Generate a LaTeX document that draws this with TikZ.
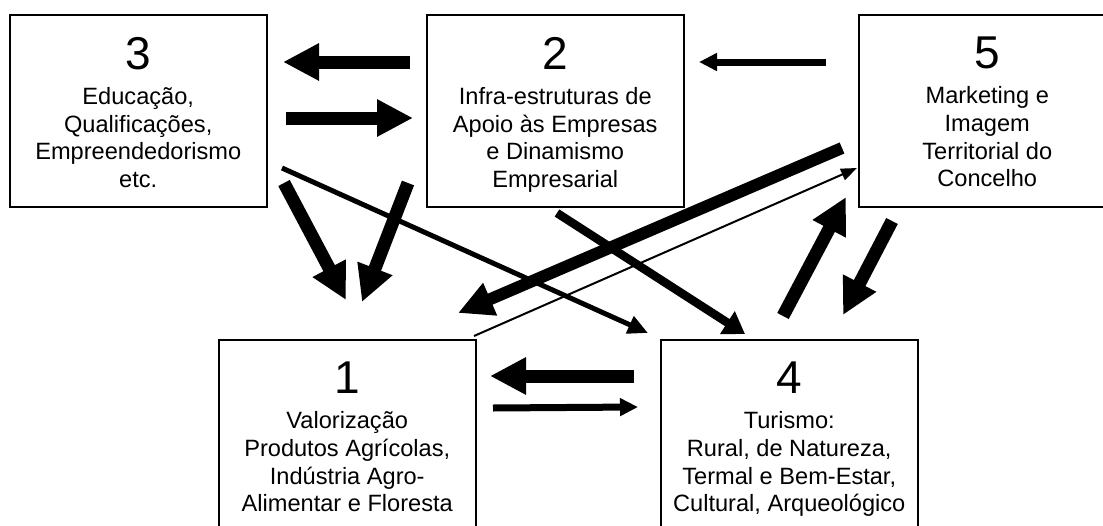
\documentclass[tikz,border=0pt]{standalone}
\usepackage{fontspec}
\setmainfont{Liberation Sans}
\usetikzlibrary{arrows.meta,calc}
\tikzset{
  box/.style={draw=black, line width=1.5pt, minimum width=257pt, minimum height=192pt, inner sep=0pt, anchor=north west},
  boxtext/.style={anchor=north, inner sep=0pt, align=center, font=\fontsize{23.6}{27.7}\selectfont},
  arrbig/.style={line width=13pt, -{Triangle[length=36pt,width=35pt]}},
  arrheavy/.style={line width=12pt, -{Triangle[length=35pt,width=33pt]}},
  arrmid/.style={line width=8.5pt, -{Triangle[length=21pt,width=26pt]}},
  arrmed/.style={line width=7pt, -{Triangle[length=18pt,width=17pt]}},
  arrslim/.style={line width=5pt, -{Triangle[length=20pt,width=18pt]}},
  arrthin/.style={line width=2pt, -{Triangle[length=16pt,width=12pt]}},
}
\newcommand\numline[1]{{\fontsize{46}{46}\selectfont #1}\\[7.3pt]}
\begin{document}
\begin{tikzpicture}[x=1pt,y=-1pt]
\useasboundingbox (0,0) rectangle (1103,525);
\clip (0,0) rectangle (1103,525);
\fill[white] (0,0) rectangle (1103,525);

% boxes
\node[box] (b3) at (9,14) {};
\node[box] (b2) at (426,14) {};
\node[box] (b5) at (858,14) {};
\node[box] (b1) at (218,339) {};
\node[box] (b4) at (660,339) {};

% texts
\node[boxtext] (t3) at ($(b3.north)+(0,23)$) {\numline{3}Educação,\\Qualificações,\\Empreendedorismo\\etc.};
\node[boxtext] (t2) at ($(b2.north)+(0,23)$) {\numline{2}Infra-estruturas de\\Apoio às Empresas\\e Dinamismo\\Empresarial};
\node[boxtext] (t5) at ($(b5.north)+(0,23)$) {\numline{5}Marketing e\\Imagem\\Territorial do\\Concelho};
\node[boxtext] (t1) at ($(b1.north)+(0,23)$) {\numline{1}Valorização\\Produtos Agrícolas,\\Indústria Agro-\\Alimentar e Floresta};
\node[boxtext] (t4) at ($(b4.north)+(0,23)$) {\numline{4}Turismo:\\Rural, de Natureza,\\Termal e Bem-Estar,\\Cultural, Arqueológico};

% connector end points
\coordinate (p23s) at (410,62);  \coordinate (p23e) at (283,62);
\coordinate (p32s) at (286,118); \coordinate (p32e) at (413,118);
\coordinate (p31s) at (284,183); \coordinate (p31e) at (346,300);
\coordinate (p21s) at (408,183); \coordinate (p21e) at (362,302);
\coordinate (p41s) at (634,376); \coordinate (p41e) at (490,376);
\coordinate (p45s) at (783,316); \coordinate (p45e) at (846,197);
\coordinate (p54s) at (892,221); \coordinate (p54e) at (843,315);
\coordinate (p51s) at (842,148); \coordinate (p51e) at (458,313);
\coordinate (p52s) at (826,62);  \coordinate (p52e) at (699,62);
\coordinate (p14s) at (493,408); \coordinate (p14e) at (638,407);
\coordinate (p34s) at (282,168); \coordinate (p34e) at (648,333);
\coordinate (p24s) at (557,213); \coordinate (p24e) at (745,334);
\coordinate (p15s) at (474,336); \coordinate (p15e) at (857,168);

% connectors
\draw[arrbig] (p23s) -- (p23e);
\draw[arrbig] (p32s) -- (p32e);
\draw[arrbig] (p31s) -- (p31e);
\draw[arrbig] (p21s) -- (p21e);
\draw[arrbig] (p41s) -- (p41e);
\draw[arrbig] (p45s) -- (p45e);
\draw[arrbig] (p54s) -- (p54e);
\draw[arrheavy] (p51s) -- (p51e);
\draw[arrmed] (p52s) -- (p52e);
\draw[arrmed] (p14s) -- (p14e);
\draw[arrslim] (p34s) -- (p34e);
\draw[arrmid] (p24s) -- (p24e);
\draw[arrthin] (p15s) -- (p15e);
\end{tikzpicture}
\end{document}
